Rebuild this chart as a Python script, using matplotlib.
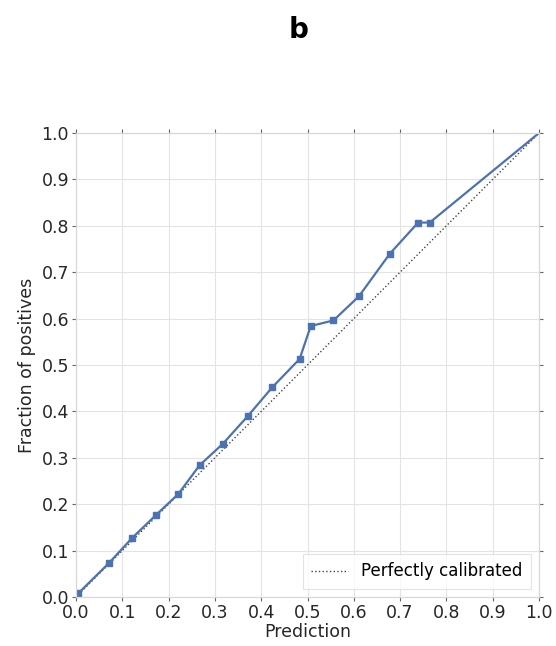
import matplotlib
matplotlib.use('Agg')
import matplotlib.pyplot as plt

# calibration curve values
mean_pred = [0.005, 0.071, 0.122, 0.172, 0.221, 0.267, 0.317, 0.372, 0.424, 0.483,
             0.507, 0.556, 0.611, 0.678, 0.739, 0.764, 1.0]
frac_pos = [0.008, 0.073, 0.128, 0.176, 0.222, 0.284, 0.330, 0.391, 0.452, 0.513,
            0.584, 0.596, 0.648, 0.740, 0.807, 0.807, 1.0]
ticks = [0.0, 0.1, 0.2, 0.3, 0.4, 0.5, 0.6, 0.7, 0.8, 0.9, 1.0]

plt.rcParams['font.family'] = ['DejaVu Sans']

fig = plt.figure(figsize=(5.56, 6.46), dpi=100)
ax = fig.add_axes([76 / 556, 49 / 646, 463 / 556, 464 / 646])

ax.plot([0, 1], [0, 1], linestyle=':', color='#444444', lw=1.0, label='Perfectly calibrated')
ax.plot(mean_pred, frac_pos, color='#4c72b0', lw=1.6, marker='s', markersize=4,
        markevery=list(range(len(mean_pred) - 1)))

ax.set_xlim(0, 1)
ax.set_ylim(0, 1)
ax.set_xticks(ticks)
ax.set_yticks(ticks)
ax.set_xticklabels([f'{t:.1f}' for t in ticks])
ax.set_yticklabels([f'{t:.1f}' for t in ticks])
ax.grid(True, color='#e3e3e3', lw=0.8)
ax.set_axisbelow(True)
for s in ax.spines.values():
    s.set_color('#d8d8d8')
    s.set_linewidth(0.9)
ax.tick_params(axis='both', which='both', direction='out', length=3, width=0.8,
               color='#666666', labelsize=12.5, labelcolor='#262626',
               top=True, right=True, pad=2)

ax.set_xlabel('Prediction', fontsize=12.5, color='#262626', labelpad=1)
ax.set_ylabel('Fraction of positives', fontsize=12.5, color='#262626', labelpad=4)

leg = ax.legend(loc='lower right', fontsize=12, frameon=True, fancybox=False,
                borderpad=0.5, handlelength=2.2)
leg.get_frame().set_edgecolor('#dddddd')
leg.get_frame().set_linewidth(0.8)

fig.text(0.537, 0.953, 'b', fontsize=20, fontweight='bold', ha='center', va='center')

fig.savefig('out.png', dpi=100)
